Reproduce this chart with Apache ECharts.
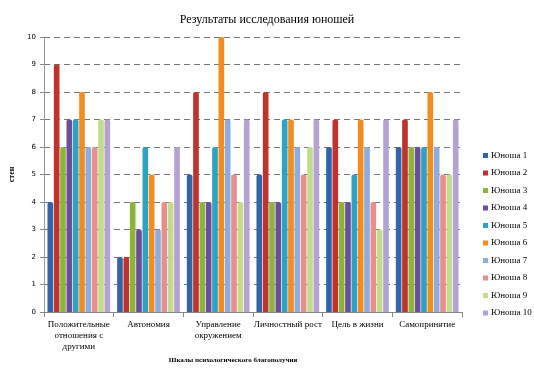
<!DOCTYPE html>
<html><head><meta charset="utf-8">
<script src="https://cdn.jsdelivr.net/npm/echarts@6/dist/echarts.min.js"></script>
<style>html,body{margin:0;padding:0;background:#fff}#c{width:534px;height:379px}</style>
</head><body><div id="c"></div>
<script>
const categories = ["Положительные\nотношения с\nдругими","Автономия","Управление\nокружением","Личностный рост","Цель в жизни","Самопринятие"];
const seriesNames = ["Юноша 1","Юноша 2","Юноша 3","Юноша 4","Юноша 5","Юноша 6","Юноша 7","Юноша 8","Юноша 9","Юноша 10"];
const yun1 = [4,2,5,5,6,6];
const yun2 = [9,2,8,8,7,7];
const yun3 = [6,4,4,4,4,6];
const yun4 = [7,3,4,4,4,6];
const yun5 = [7,6,6,7,5,6];
const yun6 = [8,5,10,7,7,8];
const yun7 = [6,3,7,6,6,6];
const yun8 = [6,4,5,5,4,5];
const yun9 = [7,4,4,6,3,5];
const yun10 = [7,6,7,7,7,7];
const yTicks = [0,1,2,3,4,5,6,7,8,9,10];
const values = [yun1,yun2,yun3,yun4,yun5,yun6,yun7,yun8,yun9,yun10];
const colors = ["#3264a8","#c0322d","#8db33c","#6a4e9a","#2ea2c2","#f28b20","#8eaddf","#e68f8c","#c2dc8c","#b3a2d2"];
const serif = "Liberation Serif, Times New Roman, serif";
const chart = echarts.init(document.getElementById('c'));
chart.setOption({
  animation:false,
  color: colors,
  title:{text:"Результаты исследования юношей",left:262,top:9,textAlign:'center',
    textStyle:{fontFamily:serif,fontSize:12,fontWeight:'normal',color:'#000'}},
  legend:{orient:'vertical',left:478,top:146,itemWidth:5,itemHeight:5,itemGap:8.5,icon:'rect',
    textStyle:{fontFamily:serif,fontSize:9,color:'#000',padding:[0,0,0,-2]},data:seriesNames},
  grid:{left:44,right:72,top:37,bottom:67},
  xAxis:{type:'category',data:categories,
    name:"Шкалы психологического благополучия",nameLocation:'middle',nameGap:36,
    nameTextStyle:{fontFamily:serif,fontSize:7,fontWeight:'bold',color:'#000',padding:[0,40,0,0]},
    axisLine:{lineStyle:{color:'#888'}},axisTick:{show:true,lineStyle:{color:'#888'}},
    axisLabel:{fontFamily:serif,fontSize:9,color:'#000',interval:0,lineHeight:11,margin:7}},
  yAxis:{type:'value',min:0,max:10,interval:1,
    name:"стен",nameLocation:'middle',nameGap:18,nameRotate:90,
    nameTextStyle:{fontFamily:serif,fontSize:8,fontWeight:'bold',color:'#000'},
    axisLine:{show:true,lineStyle:{color:'#999'}},axisTick:{show:true,length:4,lineStyle:{color:'#888'}},
    axisLabel:{fontFamily:'DejaVu Sans',fontSize:7,color:'#000',margin:8,
      formatter:function(v){return yTicks.indexOf(v)>=0?String(v):'';}},
    splitLine:{lineStyle:{color:'#777',type:[6,4]}}},
  series: seriesNames.map((n,i)=>({
    name:n,type:'bar',data:values[i],barGap:'12%',barCategoryGap:'10%',
    itemStyle:{color:colors[i],borderRadius:[2,2,0,0]}
  }))
});
</script></body></html>
